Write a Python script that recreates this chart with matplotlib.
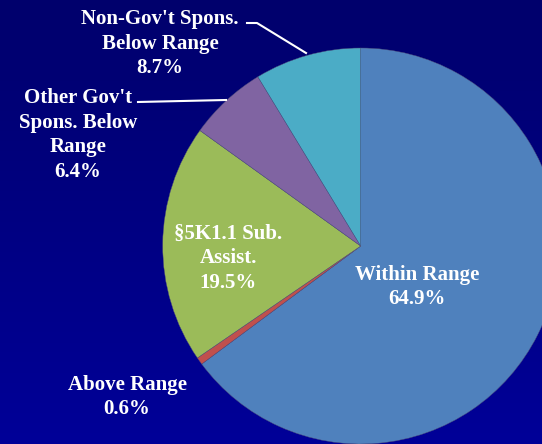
import numpy as np
import matplotlib
matplotlib.use("Agg")
import matplotlib.pyplot as plt
from matplotlib.colors import LinearSegmentedColormap

# slice data, clockwise from 12 o'clock
names = ["Within Range", "Above Range", "§5K1.1 Sub.\nAssist.",
         "Other Gov't\nSpons. Below\nRange", "Non-Gov't Spons.\nBelow Range"]
shares = [64.9, 0.6, 19.5, 6.4, 8.7]
colors = ["#4F81BD", "#C0504D", "#9BBB59", "#8064A2", "#4BACC6"]

W, H = 542, 444
fig = plt.figure(figsize=(W / 100, H / 100), dpi=100)
ax = fig.add_axes([0, 0, 1, 1])

# background gradient, dark navy at top to brighter blue at bottom
grad = np.linspace(0, 1, 256).reshape(-1, 1)
bg = LinearSegmentedColormap.from_list("bg", ["#000098", "#00006C"])
ax.imshow(grad, cmap=bg, extent=(0, W, 0, H), aspect="auto", origin="lower", zorder=0)

cx, cy, r = 360.7, H - 246, 198
wedges, _ = ax.pie(shares, colors=colors, startangle=90, counterclock=False,
                   center=(cx, cy), radius=r, frame=True,
                   wedgeprops=dict(edgecolor="#50507a", linewidth=0.3))
ax.set_xlim(0, W)
ax.set_ylim(0, H)
ax.set_aspect("auto")
ax.axis("off")

font = dict(family=["Liberation Serif", "DejaVu Serif"], fontweight="bold",
            fontsize=15, color="white", ha="center", va="center", linespacing=1.3)

labels = [f"{n}\n{v}%" for n, v in zip(names, shares)]
pos = [(417, 287), (127, 397), (228, 258), (78, 135), (160, 44)]
for lab, (x, y) in zip(labels, pos):
    ax.text(x, H - y, lab, **font, zorder=5)

# leader lines
ax.plot([247, 257, 306], [H - 23, H - 23, H - 53], color="white", lw=1.5, zorder=4)
ax.plot([138, 226], [H - 102, H - 100], color="white", lw=1.5, zorder=4)

fig.savefig("out.png", dpi=100)
